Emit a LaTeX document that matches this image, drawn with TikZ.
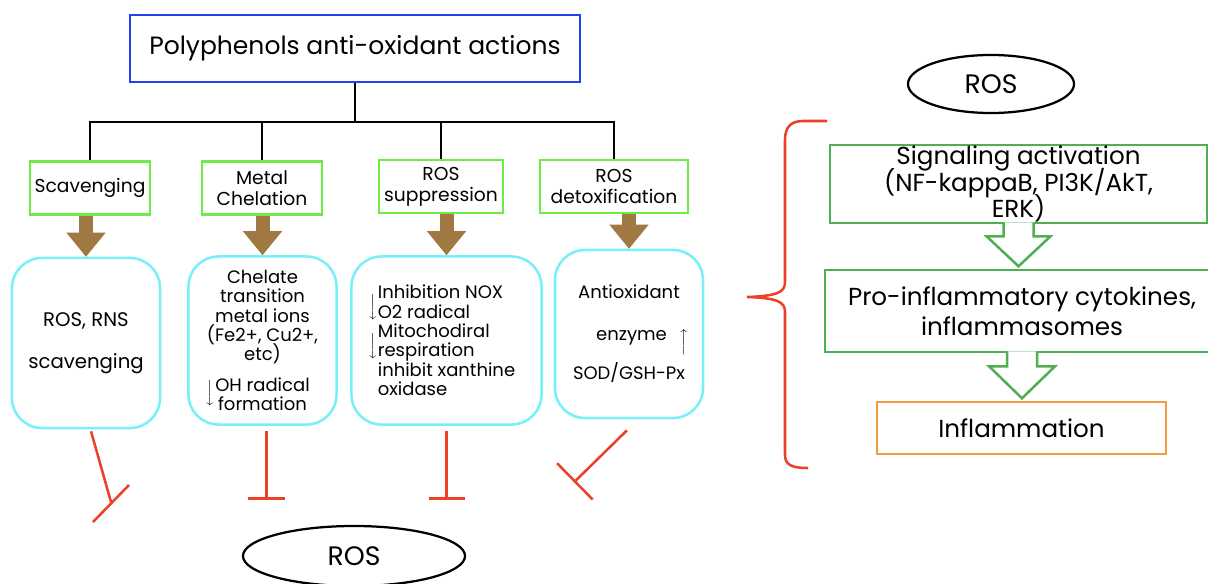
\documentclass[tikz,border=0pt]{standalone}
\usepackage{fontspec}
\setmainfont{Poppins}
\usetikzlibrary{shapes,arrows.meta,positioning,calc}
\definecolor{polyblue}{RGB}{35,65,240}
\definecolor{actgreen}{RGB}{110,235,70}
\definecolor{siggreen}{RGB}{80,175,80}
\definecolor{rescyan}{RGB}{120,240,250}
\definecolor{arrowbrown}{RGB}{160,120,65}
\definecolor{inhred}{RGB}{235,65,40}
\definecolor{inflorange}{RGB}{240,155,60}
\lineskiplimit=-100pt

\begin{document}
\begin{tikzpicture}[x=0.025cm, y=-0.025cm,
    titlebox/.style={draw=polyblue, line width=1.8pt, minimum width=11.25cm, minimum height=1.675cm,
              font=\fontsize{17.8}{20}\selectfont},
    actbox/.style={draw=actgreen, line width=1.8pt, inner sep=1pt, align=center,
              minimum height=1.33cm, font=\fontsize{13.3}{15}\selectfont},
    resbox/.style={draw=rescyan, line width=1.8pt, rounded corners=0.75cm, minimum width=3.7cm,
              minimum height=4.2cm, align=center, font=\fontsize{12.8}{13.8}\selectfont},
    rosnode/.style={ellipse, draw, line width=1.6pt, inner sep=0pt, font=\fontsize{19}{22}\selectfont},
    sigbox/.style={draw=siggreen, line width=1.8pt, inner ysep=0pt, align=center,
              font=\fontsize{17.5}{18.8}\selectfont},
    tree/.style={draw=black, line width=2pt},
    inhline/.style={draw=inhred, line width=1.8pt},
    fatarrow/.style={draw=arrowbrown, line width=0.35cm,
              -{Triangle[width=0.98cm 0 0, length=0.6cm 0 0, line width=0pt 0 0]}},
    hollowarrow/.style={draw=siggreen, line width=1.8pt, fill=white}]
\useasboundingbox (0,0) rectangle (1208,584);

% left part: actions of polyphenols
\node[titlebox] (title) at (355,48.5) {Polyphenols anti-oxidant actions};
\node[actbox, minimum width=3cm] (g1) at (90,188) {Scavenging};
\node[actbox, minimum width=3cm] (g2) at (262,188) {Metal\\Chelation};
\node[actbox, minimum width=3.1cm] (g3) at (441,186.5) {ROS\\suppression};
\node[actbox, minimum width=3.7cm] (g4) at (614,186.5) {ROS\\detoxification};
\coordinate (bus) at (355,122);
\draw[tree] (title.south) -- (bus);
\foreach \g in {g1,g2,g3,g4}
    \draw[tree] (\g.north) |- (bus);

\node[resbox, minimum height=4.25cm, font=\fontsize{14}{14}\selectfont] (c1) at (86,343)
    {ROS, RNS\\[16pt]scavenging};
\node[resbox] (c2) at (262.5,340.5) {Chelate\\transition\\metal ions\\(Fe2+, Cu2+,\\etc)\\[8pt]%
    \llap{\smash{\raisebox{-4pt}{$\Big\downarrow$}}}OH radical\\formation};
\node[resbox, minimum width=4.75cm, align=left] (c3) at (446.5,340.5)
    {\llap{\smash{\raisebox{-9pt}{$\Big\downarrow$}}}Inhibition NOX\\O2 radical\\%
     \llap{\smash{\raisebox{-9pt}{$\Big\downarrow$}}}Mitochodiral\\respiration\\inhibit xanthine\\oxidase};
\node[resbox] (c4) at (629,334)
    {Antioxidant\\[16pt]\hspace*{1.5em}enzyme\hspace{0.7em}\smash{\raisebox{-4pt}{$\Big\uparrow$}}\\[14pt]SOD/GSH-Px};

\foreach \i in {1,2,3,4}
    \draw[fatarrow] (c\i.north |- g\i.south) -- (c\i.north);

% inhibition of ROS
\node[rosnode, minimum width=5.55cm, minimum height=1.5cm] (ros) at (354,556) {ROS};
\coordinate (e1) at (111,502);
\draw[inhline] ($(c1.south)+(5,2)$) -- (e1);
\draw[inhline] ($(e1)+(-18,20)$) -- ($(e1)+(18,-17)$);
\draw[inhline, -{Bar[width=0.9cm 0 0]}] ($(c2.south)+(4,5)$) -- ++(0,69);
\draw[inhline, -{Bar[width=0.9cm 0 0]}] ($(c3.south)+(0,5)$) -- ++(0,69);
\draw[inhline, -{Bar[width=1.27cm 0 0]}] ($(c4.south)+(-2,11)$) -- ++(-53,52);

% right part: ROS and inflammation
\node[rosnode, minimum width=4.15cm, minimum height=1.45cm] (ros2) at (991,84) {ROS};
\node[sigbox, minimum width=9.425cm, minimum height=1.95cm] (sig) at (1018.5,184)
    {Signaling activation\\(NF-kappaB, PI3K/AkT,\\ERK)};
\node[sigbox, minimum width=9.85cm, minimum height=2.05cm, font=\fontsize{17.5}{21}\selectfont] (pro) at (1022,311)
    {Pro-inflammatory cytokines,\\inflammasomes};
\node[draw=inflorange, line width=1.8pt, minimum width=7.225cm, minimum height=1.3cm,
      font=\fontsize{17.5}{20}\selectfont] (infl) at (1021.5,428) {Inflammation};
\filldraw[hollowarrow] ($(sig.south)+(-15,-2)$) -- ++(0,14) -- ++(-17,0) -- ++(32,30) -- ++(32,-30) -- ++(-17,0) -- ++(0,-14);
\filldraw[hollowarrow] ($(pro.south)+(-15,-2)$) -- ++(0,15) -- ++(-18,0) -- ++(33,32) -- ++(33,-32) -- ++(-18,0) -- ++(0,-15);

% brace
\draw[inhline] (827,121) -- (803,121) .. controls (790,121) and (785,128) .. (785,140) -- (785,282)
    .. controls (785,292) and (778,296) .. (747,297)
    .. controls (778,298) and (785,302) .. (785,312) -- (785,455)
    .. controls (785,465) and (792,468) .. (808,468);
\end{tikzpicture}
\end{document}
